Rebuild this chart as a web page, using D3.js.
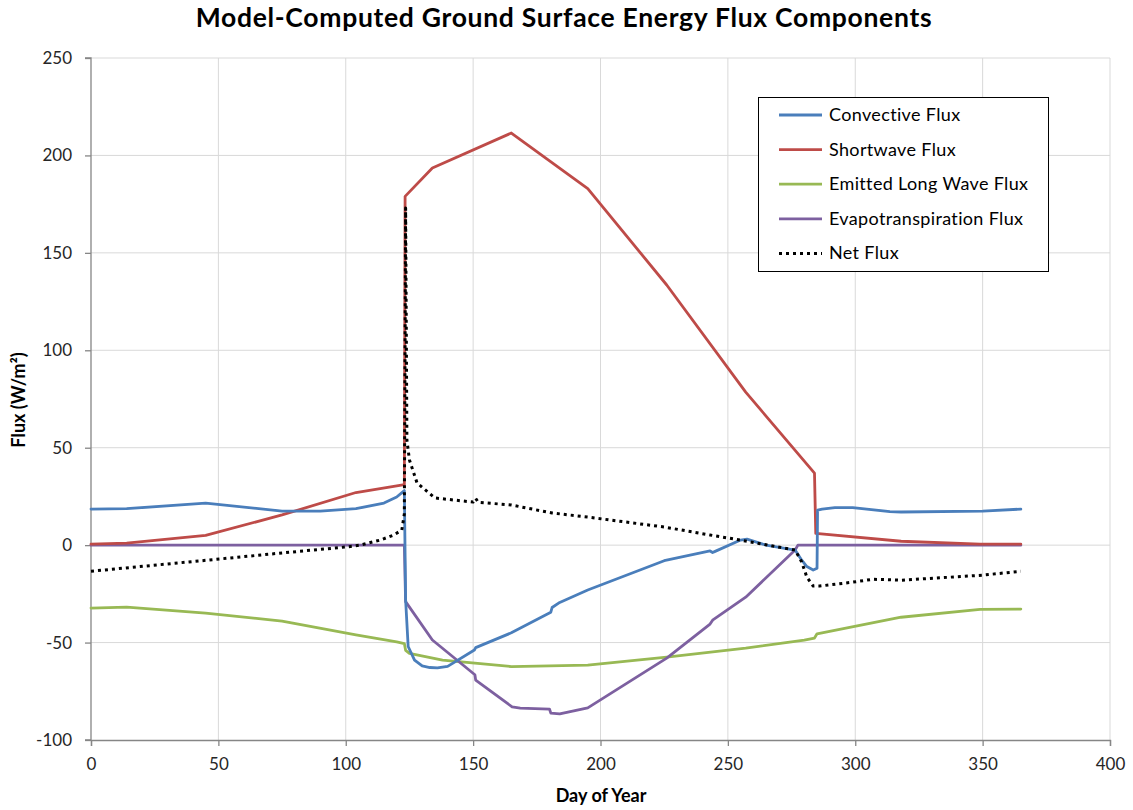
<!DOCTYPE html>
<html>
<head>
<meta charset="utf-8">
<script src="https://cdn.jsdelivr.net/npm/d3@7"></script>
<style>
  body { margin: 0; background: #fff; }
  svg { font-family: Lato, "Open Sans", sans-serif; }
</style>
</head>
<body>
<svg id="chart" width="1133" height="810"></svg>
<script>
const title = "Model-Computed Ground Surface Energy Flux Components";
const xTitle = "Day of Year";
const yTitle = "Flux (W/m²)";
const xTicks = [0, 50, 100, 150, 200, 250, 300, 350, 400];
const yTicks = [-100, -50, 0, 50, 100, 150, 200, 250];

const seriesNames = ["Convective Flux", "Shortwave Flux", "Emitted Long Wave Flux", "Evapotranspiration Flux", "Net Flux"];

const convDays = [0, 14, 45, 75, 90, 104, 115, 120, 123, 123.5, 124.5, 127, 130, 133, 136, 140, 150.5, 151, 165, 180.5, 181, 184, 195, 225, 243, 244, 245, 255, 257.5, 265, 276.4, 279, 281, 283.5, 285, 285.2, 287, 292, 299, 313.6, 318, 350, 365];
const convVals = [18.5, 18.7, 21.6, 17.5, 17.5, 18.7, 21.6, 24.7, 28, -28, -52, -59, -62, -62.8, -63, -62.2, -53.8, -52.6, -45, -34.4, -32, -29.4, -23, -8, -3, -3.8, -3.2, 2.6, 3.1, 0, -2.5, -7.7, -11, -12.8, -11.8, 18, 18.5, 19.3, 19.3, 17.2, 17, 17.5, 18.5];

const swDays = [0, 14, 45, 75, 104, 123, 123.3, 134, 165, 195, 226, 257, 284, 284.5, 318, 349, 365];
const swVals = [0.5, 1, 5, 15.5, 27, 31, 179, 193.5, 211.5, 183, 133.5, 78.5, 37, 6, 2, 0.5, 0.5];

const lwDays = [0, 14, 45, 75, 104, 120, 123, 123.5, 125, 138, 150.7, 165, 180, 195, 226, 257, 280, 284, 285, 318, 349, 365];
const lwVals = [-32.3, -31.8, -34.9, -39, -46, -49.7, -50.5, -54, -55.5, -59, -60.6, -62.3, -62, -61.6, -57.5, -52.9, -48.7, -47.7, -45.5, -37, -33, -32.8];

const etDays = [0, 123, 123.5, 134, 150.7, 151, 165.3, 168.5, 180, 180.5, 184, 195, 226, 243, 244, 257, 276.4, 277.5, 365];
const etVals = [0, 0, -29, -48.7, -66.5, -69.3, -83, -83.6, -84.2, -86.2, -86.6, -83.5, -58, -40.5, -38.5, -26.7, -2.5, 0, 0];

const netDays = [0, 45, 75, 100.5, 105.6, 113.5, 118.5, 122, 123, 123.5, 124, 125, 128, 135, 150, 151, 152, 165, 181, 195, 225, 243, 255, 276.4, 279, 281, 283.5, 286, 299, 307, 318, 350, 365];
const netVals = [-13.4, -7.8, -4, -0.9, 0, 2.6, 5, 7.7, 16, 173, 54, 43.7, 31.9, 24.2, 22.1, 24, 22, 20.6, 16.5, 14.4, 9.3, 5.2, 2.6, -2.5, -8.7, -16.4, -21, -21, -19, -17.5, -18, -15.4, -13.4];

const colors = ["#4A7EBB", "#BE4B48", "#98B954", "#7D60A0", "#000000"];

const svg = d3.select("#chart");
const x = d3.scaleLinear().domain([0, 400]).range([91, 1110]);
const y = d3.scaleLinear().domain([-100, 250]).range([740, 58]);

// gridlines
svg.append("g").selectAll("line").data(yTicks.filter(d => d !== -100)).join("line")
  .attr("x1", x(0)).attr("x2", x(400)).attr("y1", d => y(d)).attr("y2", d => y(d))
  .attr("stroke", "#d9d9d9").attr("stroke-width", 1);
svg.append("g").selectAll("line").data(xTicks.filter(d => d !== 0)).join("line")
  .attr("y1", y(-100)).attr("y2", y(250)).attr("x1", d => x(d)).attr("x2", d => x(d))
  .attr("stroke", "#d9d9d9").attr("stroke-width", 1);

// axes
const fmt = d => String(d);
const xAxis = d3.axisBottom(x).tickValues(xTicks).tickSize(6).tickPadding(12).tickFormat(fmt);
const yAxis = d3.axisLeft(y).tickValues(yTicks).tickSize(6).tickPadding(13).tickFormat(fmt);
const gx = svg.append("g").attr("transform", `translate(0,${y(-100)})`).call(xAxis);
const gy = svg.append("g").attr("transform", `translate(${x(0)},0)`).call(yAxis);
[gx, gy].forEach(g => {
  g.select(".domain").attr("stroke", "#868686").attr("stroke-width", 1.3);
  g.selectAll(".tick line").attr("stroke", "#868686").attr("stroke-width", 1.3);
  g.selectAll(".tick text").attr("fill", "#262626").style("font-size", "17px").style("font-family", "Lato, sans-serif");
});
gy.select(".domain").attr("d", `M-6,${y(250)}H0V${y(-100)}H-6`);

// lines
const seriesData = [
  [convDays, convVals], [swDays, swVals], [lwDays, lwVals], [etDays, etVals], [netDays, netVals]
];
const line = d3.line().x(d => x(d[0])).y(d => y(d[1]));
const plotG = svg.append("g");
const drawOrder = [2, 3, 1, 0, 4];
drawOrder.forEach(i => {
  const [ds, vs] = seriesData[i];
  const pts = ds.map((d, k) => [d, vs[k]]);
  const p = plotG.append("path").datum(pts)
    .attr("d", line).attr("fill", "none")
    .attr("stroke", colors[i]).attr("stroke-linejoin", "round");
  if (i === 4) {
    p.attr("stroke-width", 3).attr("stroke-dasharray", "3,4");
  } else {
    p.attr("stroke-width", 2.8).attr("stroke-linecap", "round");
  }
});

// titles
svg.append("text").attr("x", 564).attr("y", 27).attr("text-anchor", "middle")
  .style("font-size", "26.5px").style("font-weight", "bold").style("letter-spacing", "0.7px")
  .attr("fill", "#000").text(title);
svg.append("text").attr("x", 601).attr("y", 802).attr("text-anchor", "middle")
  .style("font-size", "18px").style("font-weight", "bold").attr("fill", "#000").text(xTitle);
svg.append("text").attr("transform", `translate(25,400) rotate(-90)`).attr("text-anchor", "middle")
  .style("font-size", "18px").style("font-weight", "bold").attr("fill", "#000").text(yTitle);

// legend
const lg = svg.append("g");
lg.append("rect").attr("x", 758.5).attr("y", 97.5).attr("width", 290).attr("height", 174)
  .attr("fill", "#fff").attr("stroke", "#000").attr("stroke-width", 1);
seriesNames.forEach((name, i) => {
  const yy = 115 + i * 34.6;
  const l = lg.append("line").attr("x1", 779).attr("x2", 822).attr("y1", yy).attr("y2", yy)
    .attr("stroke", colors[i]);
  if (i === 4) l.attr("stroke-width", 3).attr("stroke-dasharray", "3,4");
  else l.attr("stroke-width", 2.8);
  lg.append("text").attr("x", 829).attr("y", yy + 6).style("font-size", "18px")
    .style("letter-spacing", "0.35px").attr("fill", "#000").text(name);
});
</script>
</body>
</html>
